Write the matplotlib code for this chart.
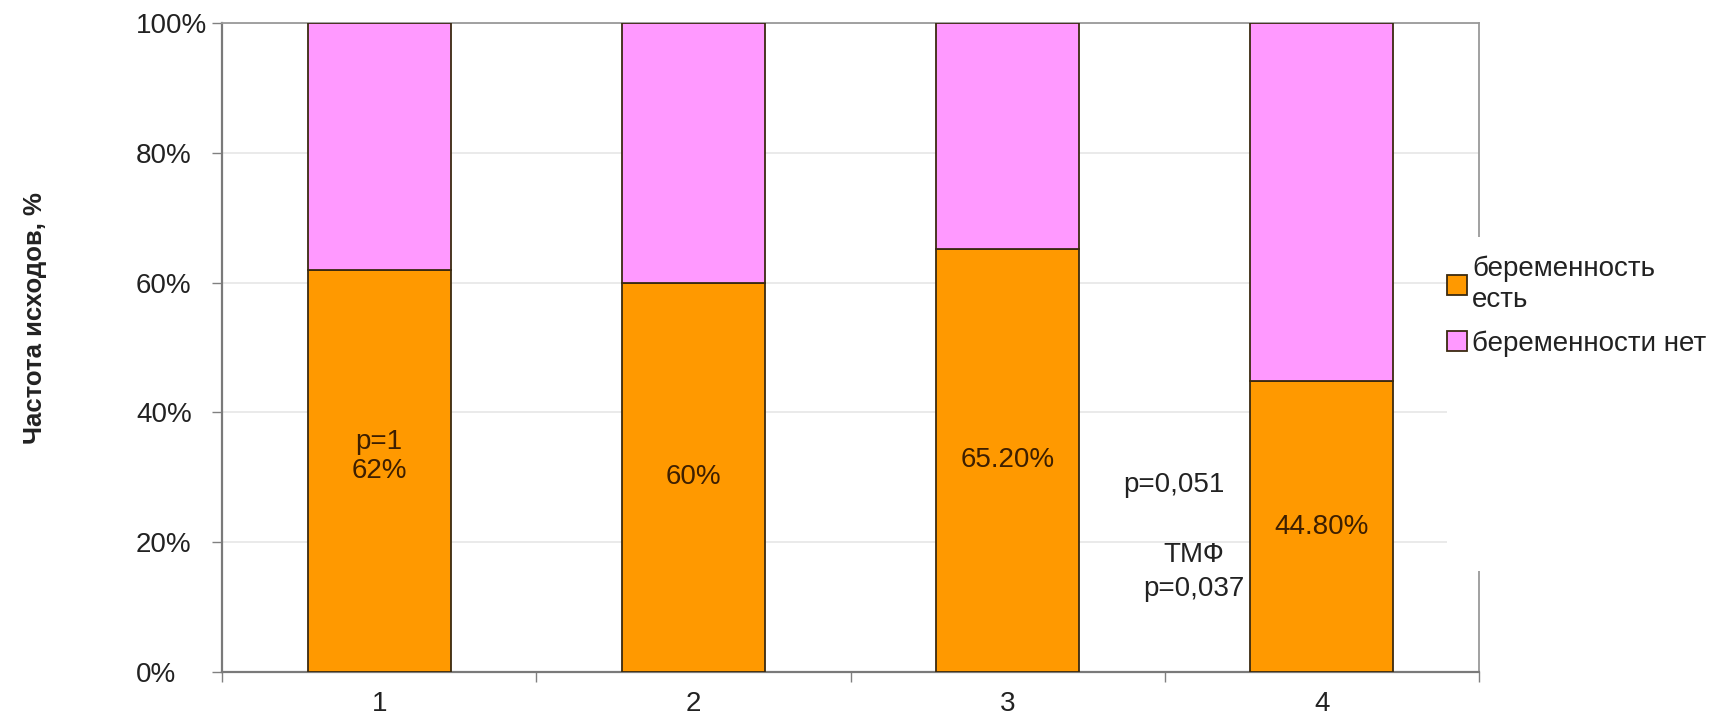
import matplotlib.pyplot as plt
from matplotlib.patches import Rectangle
from matplotlib.ticker import FixedLocator, FuncFormatter

plt.rcParams['font.family'] = ['Liberation Sans', 'DejaVu Sans']

# исходные данные: доля исходов по группам, %
groups = ['1', '2', '3', '4']
preg_yes = [62, 60, 65.2, 44.8]
preg_no = [38, 40, 34.8, 55.2]
label_fmt = ['{:.0f}%', '{:.0f}%', '{:.2f}%', '{:.2f}%']
label_prefix = ['p=1', '', '', '']
series_names = ['беременность\nесть', 'беременности нет']

ORANGE = '#FF9900'
PINK = '#FF99FF'
EDGE = '#3a2a10'
TXT = '#222222'
FS = 20

fig = plt.figure(figsize=(17.23, 7.17), dpi=100)
ax = fig.add_axes([222 / 1723, 1 - 672 / 717, (1479 - 222) / 1723, (672 - 23) / 717])

x = list(range(1, len(groups) + 1))
b1 = ax.bar(x, preg_yes, width=0.455, color=ORANGE, edgecolor=EDGE, linewidth=1.3,
            label=series_names[0], zorder=3)
b2 = ax.bar(x, preg_no, width=0.455, bottom=preg_yes, color=PINK, edgecolor=EDGE,
            linewidth=1.3, label=series_names[1], zorder=3)

# подписи значений в центре оранжевых столбцов
for xi, v, fmt, pre in zip(x, preg_yes, label_fmt, label_prefix):
    ax.text(xi, v / 2, fmt.format(v), ha='center', va='center',
            fontsize=FS, color='#3d1f00', zorder=4)
    if pre:
        ax.annotate(pre, (xi, v / 2), xytext=(0, 21), textcoords='offset points',
                    ha='center', va='center', fontsize=FS, color='#3d1f00', zorder=4)

# уровни значимости между группами 3 и 4
ax.text(3.53, 28.8, 'p=0,051', ha='center', va='center', fontsize=FS, color=TXT)
ax.text(3.593, 15.4, 'ТМФ\np=0,037', ha='center', va='center', fontsize=FS,
        color=TXT, linespacing=1.4)

ax.set_xlim(0.5, 4.5)
ax.set_ylim(0, 100)

ax.set_yticks([0, 20, 40, 60, 80, 100])
ax.yaxis.set_major_formatter(FuncFormatter(lambda v, p: f'{v:.0f}%'))
ax.tick_params(axis='y', length=7, width=1, color='#808080', labelsize=FS,
               labelcolor=TXT, pad=55)
for lab in ax.get_yticklabels():
    lab.set_horizontalalignment('left')

ax.set_xticks(x)
ax.set_xticklabels(groups)
ax.xaxis.set_minor_locator(FixedLocator([0.5, 1.5, 2.5, 3.5, 4.5]))
ax.tick_params(axis='x', which='major', length=0, labelsize=FS, labelcolor=TXT, pad=14)
ax.tick_params(axis='x', which='minor', length=7, width=1, color='#808080')

ax.grid(axis='y', color='#e6e6e6', linewidth=1.2, zorder=0)
ax.set_axisbelow(True)
for side in ['left', 'bottom']:
    ax.spines[side].set_color('#7a7a7a')
    ax.spines[side].set_linewidth(1.6)
for side in ['top', 'right']:
    ax.spines[side].set_color('#9a9a9a')
    ax.spines[side].set_linewidth(1.3)

fig.text(35 / 1723, 1 - 318 / 717, 'Частота исходов, %', rotation=90, ha='center',
         va='center', fontsize=18.5, fontweight='bold', color=TXT)

# белая подложка под легендой перекрывает сетку и рамку справа
fig.patches.append(Rectangle((1447 / 1723, 1 - 571 / 717), (1723 - 1447) / 1723,
                             (571 - 237) / 717, transform=fig.transFigure,
                             facecolor='white', edgecolor='none', zorder=1))

leg = fig.legend(handles=[b1, b2], loc='upper left',
                 bbox_to_anchor=(1447 / 1723, 1 - 256 / 717), frameon=False,
                 fontsize=FS, handlelength=0.72, handleheight=0.72,
                 handletextpad=0.18, labelspacing=0.6, borderpad=0, borderaxespad=0)
leg.set_zorder(2)
for t in leg.get_texts():
    t.set_linespacing(1.25)
    t.set_color(TXT)

fig.savefig('out.png', dpi=100)
